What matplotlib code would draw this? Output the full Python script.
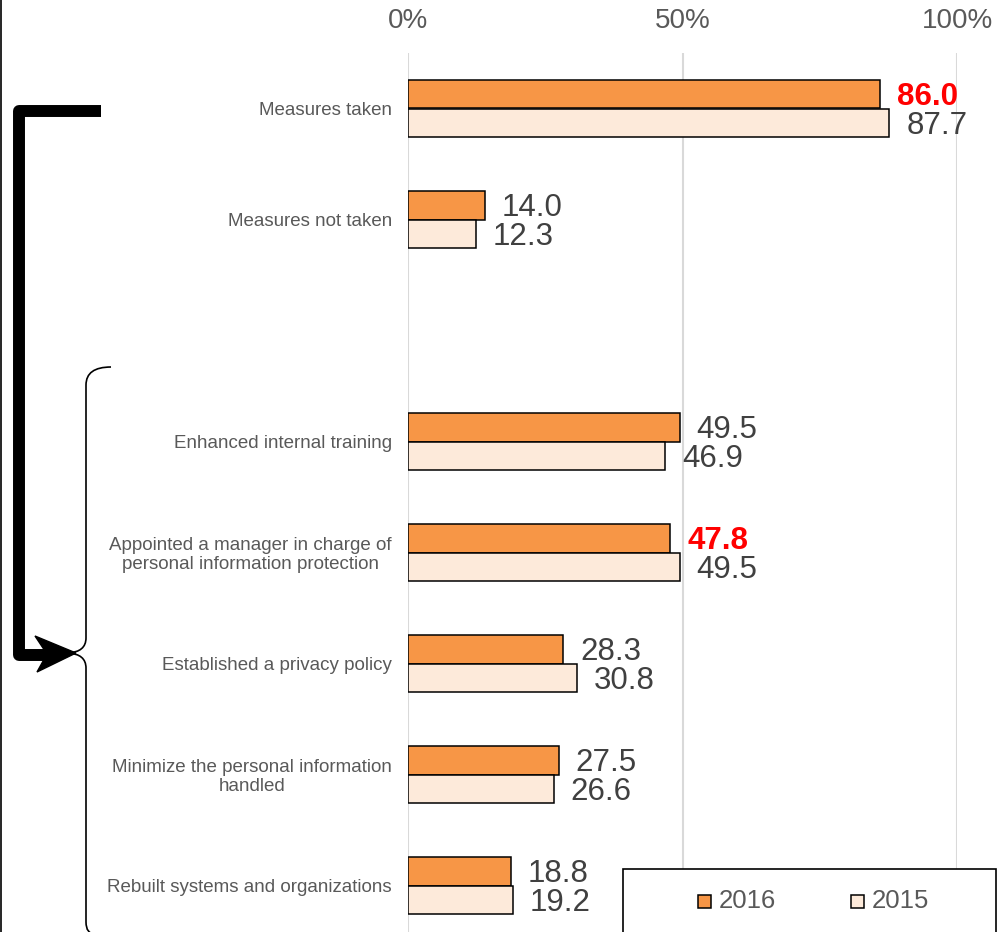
import matplotlib
matplotlib.use("Agg")
import matplotlib.pyplot as plt
from matplotlib.path import Path
from matplotlib.patches import PathPatch, Polygon, Rectangle
import numpy as np

plt.rcParams['font.family'] = ['Liberation Sans', 'DejaVu Sans']

# ---- data ----
categories = [
    "Measures taken",
    "Measures not taken",
    "",
    "Enhanced internal training",
    "Appointed a manager in charge of\npersonal information protection",
    "Established a privacy policy",
    "Minimize the personal information\nhandled",
    "Rebuilt systems and organizations",
]
values_2016 = [86.0, 14.0, None, 49.5, 47.8, 28.3, 27.5, 18.8]
values_2015 = [87.7, 12.3, None, 46.9, 49.5, 30.8, 26.6, 19.2]
highlight_2016 = [True, False, False, False, True, False, False, False]
series_names = ["2016", "2015"]
x_ticks = [0, 50, 100]
x_tick_labels = ["0%", "50%", "100%"]

# ---- style ----
c2016 = "#F79646"
c2015 = "#FDEADA"
text_grey = "#595959"
label_grey = "#404040"
grid_grey = "#D9D9D9"

W, H = 1002, 932
fig = plt.figure(figsize=(W / 100, H / 100), dpi=100)
ax = fig.add_axes([408 / W, -9 / H, 549 / W, 888 / H])

y = np.arange(len(categories))
bh = 0.26
for vals, off, col in [(values_2016, -bh / 2, c2016), (values_2015, bh / 2, c2015)]:
    idx = [i for i, v in enumerate(vals) if v is not None]
    ax.barh(y[idx] + off, [vals[i] for i in idx], height=bh, color=col,
            edgecolor="black", linewidth=1.1, zorder=3)

# value labels
for i in range(len(categories)):
    if values_2016[i] is not None:
        hl = highlight_2016[i]
        ax.annotate(f"{values_2016[i]:.1f}", (values_2016[i], y[i] - bh / 2),
                    xytext=(12, -2), textcoords="offset points", va="center", ha="left",
                    fontsize=22.5, color="#FF0000" if hl else label_grey,
                    fontweight="bold" if hl else "normal", zorder=5)
    if values_2015[i] is not None:
        ax.annotate(f"{values_2015[i]:.1f}", (values_2015[i], y[i] + bh / 2),
                    xytext=(12, -2), textcoords="offset points", va="center", ha="left",
                    fontsize=22.5, color=label_grey, zorder=5)

ax.set_xlim(0, 100)
ax.set_ylim(len(categories) - 0.5, -0.5)
ax.set_yticks(y)
ax.set_yticklabels(categories, fontsize=13.5, color=text_grey, multialignment="center",
                   linespacing=1.12)
ax.tick_params(axis="y", length=0, pad=11.5)
ax.xaxis.tick_top()
ax.set_xticks(x_ticks)
ax.set_xticklabels(x_tick_labels, fontsize=20, color=text_grey)
ax.tick_params(axis="x", length=0, pad=14)
for s in ax.spines.values():
    s.set_visible(False)
ax.grid(axis="x", color=grid_grey, linewidth=1.5, zorder=0)
ax.set_axisbelow(True)
ax.set_facecolor("none")

# ---- overlay in pixel coordinates for the annotations ----
ov = fig.add_axes([0, 0, 1, 1], zorder=10)
ov.set_xlim(0, W)
ov.set_ylim(H, 0)
ov.axis("off")
ov.patch.set_alpha(0)

# left frame line
ov.plot([1.5, 1.5], [0, H], color="black", linewidth=1.2, solid_capstyle="butt")

# thick elbow arrow
ov.plot([101, 19.5, 19.5, 50], [111, 111, 655, 655], color="black", linewidth=8.6,
        solid_joinstyle="round", solid_capstyle="butt")
ov.add_patch(Polygon([[76, 653], [35, 636], [47, 654], [37, 672]], closed=True,
                     facecolor="black", edgecolor="black", linewidth=1))

# curly brace
verts = [(111, 367), (86, 367), (86, 385),
         (86, 638),
         (86, 652), (68, 653),
         (86, 654), (86, 668),
         (86, 922), (86, 934), (95, 934)]
codes = [Path.MOVETO, Path.CURVE3, Path.CURVE3,
         Path.LINETO,
         Path.CURVE3, Path.CURVE3,
         Path.CURVE3, Path.CURVE3,
         Path.LINETO, Path.CURVE3, Path.CURVE3]
ov.add_patch(PathPatch(Path(verts, codes), facecolor="none", edgecolor="black",
                       linewidth=1.2))

# legend box
ov.add_patch(Rectangle((623, 869), 373, 80, facecolor="white", edgecolor="black",
                       linewidth=1.2, clip_on=False))
for xm, col, name in [(705, c2016, series_names[0]), (858, c2015, series_names[1])]:
    ov.add_patch(Rectangle((xm - 6.5, 894.5), 13, 13, facecolor=col, edgecolor="black",
                           linewidth=1.1))
    ov.text(xm + 14, 901, name, fontsize=18.5, color=text_grey, va="center", ha="left")

fig.savefig("out.png", dpi=100)
